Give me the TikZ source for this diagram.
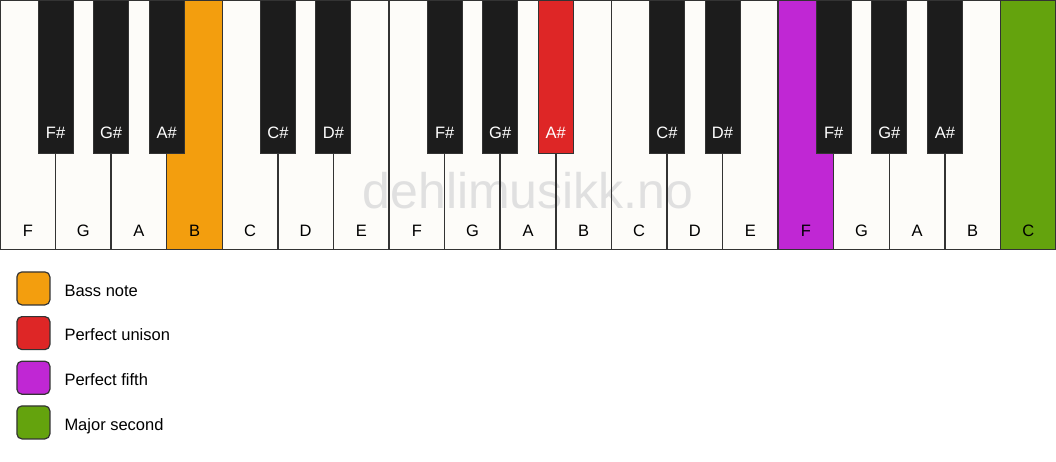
\documentclass[tikz,border=0pt]{standalone}
\usepackage{fontspec}
\setmainfont{Liberation Sans}
\definecolor{keywhite}{HTML}{FDFCF9}
\definecolor{keyblack}{HTML}{1C1C1C}
\definecolor{keyline}{HTML}{333333}
\definecolor{bassc}{HTML}{F39E0E}
\definecolor{unisonc}{HTML}{DE2626}
\definecolor{fifthc}{HTML}{C027D4}
\definecolor{secondc}{HTML}{64A30D}
\definecolor{wmark}{HTML}{E0E0E0}
\begin{document}
\begin{tikzpicture}[x=1pt,y=-1pt,
  labfont/.style={font=\fontsize{16.5}{19}\selectfont},
  whitekey/.style={minimum width=55.58pt, minimum height=249.5pt, anchor=north west, inner sep=0pt, outer sep=0pt},
  keyborder/.style={draw=keyline, line width=1.5pt},
  blackkey/.style={draw=keyline, line width=1pt, minimum width=35pt, minimum height=153pt, anchor=north, inner sep=0pt},
  wlabel/.style={labfont, text=black, anchor=base, inner sep=0pt},
  blabel/.style={labfont, text=white, anchor=base, inner sep=0pt},
  swatch/.style={draw=keyline, line width=1.2pt, rounded corners=5pt, minimum width=33pt, minimum height=33pt, inner sep=0pt},
  legtext/.style={labfont, text=black, anchor=base west, inner sep=0pt},
  watermark/.style={font=\fontsize{50}{56}\selectfont, text=wmark, anchor=base, inner sep=0pt}
]
\useasboundingbox (0,0) rectangle (1056,461);
\fill[white] (0,0) rectangle (1056,461);
% white keys (fill)
\foreach \n/\c [count=\i from 0] in {F/keywhite,G/keywhite,A/keywhite,B/bassc,C/keywhite,D/keywhite,E/keywhite,F/keywhite,G/keywhite,A/keywhite,B/keywhite,C/keywhite,D/keywhite,E/keywhite,F/fifthc,G/keywhite,A/keywhite,B/keywhite,C/secondc}{
  \node[whitekey, fill=\c] (w\i) at ({\i*55.579},0) {};
}
\node[watermark] (wm) at (528,208) {dehlimusikk.no};
% white key borders
\foreach \i in {0,...,18}{
  \draw[keyborder] (w\i.north west) rectangle (w\i.south east);
}
\foreach \n [count=\i from 0] in {F,G,A,B,C,D,E,F,G,A,B,C,D,E,F,G,A,B,C}{
  \node[wlabel] (wl\i) at ({\i*55.579+27.79},236) {\n};
}
% black keys
\foreach \n/\k/\c [count=\j] in {F\#/1/keyblack,G\#/2/keyblack,A\#/3/keyblack,C\#/5/keyblack,D\#/6/keyblack,F\#/8/keyblack,G\#/9/keyblack,A\#/10/unisonc,C\#/12/keyblack,D\#/13/keyblack,F\#/15/keyblack,G\#/16/keyblack,A\#/17/keyblack}{
  \node[blackkey, fill=\c] (b\j) at ({\k*55.579},0) {};
  \node[blabel] (bl\j) at ({\k*55.579},138.5) {\n};
}
% legend
\foreach \t/\c/\y [count=\i] in {Bass note/bassc/288.4,Perfect unison/unisonc/333.1,Perfect fifth/fifthc/377.7,Major second/secondc/422.4}{
  \node[swatch, fill=\c] (s\i) at (33.4,\y) {};
  \node[legtext] (t\i) at (64.3,{\y+7.6}) {\t};
}
\end{tikzpicture}
\end{document}
